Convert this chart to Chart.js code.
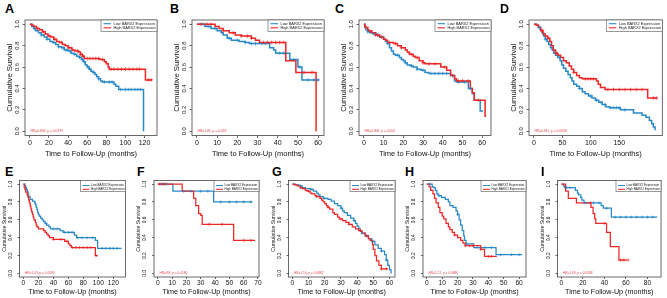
<!DOCTYPE html>
<html><head><meta charset="utf-8">
<script src="https://cdn.jsdelivr.net/npm/chart.js@4.4.1/dist/chart.umd.min.js"></script>
<style>
html,body{margin:0;padding:0;background:#fff;width:667px;height:298px;overflow:hidden;position:relative;}
.lt{position:absolute;font:bold 12.5px 'Liberation Sans',Arial,sans-serif;line-height:12.5px;color:#000;}
</style></head><body>
<script>
// ---------------- DATA ----------------
const Y_TICKS = [0, 0.2, 0.4, 0.6, 0.8, 1.0];
const LEGEND_LABELS = ['Low BARX2 Expression', 'High BARX2 Expression'];
const X_TITLE = 'Time to Follow-Up (months)';
const Y_TITLE = 'Cumulative Survival';

// A
const A_low = [[0,1],[2,0.98],[4,0.96],[6,0.94],[9,0.92],[12,0.9],[15,0.88],[18,0.86],[21,0.84],[24,0.83],[27,0.81],[30,0.79],[33,0.78],[36,0.76],[40,0.75],[43,0.73],[46,0.72],[49,0.7],[52,0.69],[54,0.67],[56,0.65],[58,0.62],[60,0.6],[62,0.58],[64,0.56],[66,0.55],[68,0.53],[70,0.51],[72,0.49],[74,0.47],[76,0.46],[88,0.44],[90,0.42],[93,0.39],[119,0]];
const A_high = [[0,1],[2,0.99],[4,0.98],[7,0.96],[10,0.95],[13,0.93],[16,0.91],[19,0.89],[22,0.88],[25,0.86],[28,0.84],[31,0.83],[34,0.81],[37,0.8],[40,0.78],[44,0.76],[47,0.75],[51,0.74],[53,0.72],[55,0.7],[57,0.68],[73,0.67],[78,0.65],[80,0.63],[82,0.6],[83,0.58],[121,0.48],[128,0.48]];
const A_lowCens = [5,12,18,25,30,35,38,42,47,52,55,57,61,63,67,72,78,83,86,95,100,103,106,110,113,116];
const A_highCens = [8,14,20,26,33,41,45,50,53,56,60,63,66,69,72,76,85,88,92,96,100,104,108,112,115,124,127];
const A_xTicks = [0,20,40,60,80,100,120];
const A_hr = 'HR=0.834, p = 0.0379';

// B
const B_low = [[0,1],[4,0.98],[7,0.96],[10,0.94],[12,0.92],[13,0.9],[15,0.87],[17,0.85],[21,0.84],[24,0.83],[26,0.82],[36,0.78],[38,0.76],[39,0.73],[46,0.67],[50,0.6],[52,0.48],[60.5,0.48]];
const B_high = [[0,1],[9,0.98],[11,0.96],[13,0.94],[16,0.92],[19,0.9],[22,0.89],[27,0.87],[29,0.85],[31,0.83],[44,0.66],[49,0.55],[59,0]];
const B_lowCens = [3,6,9,16,20,24,27,29,32,34,41,43,48,51,55,58,60];
const B_highCens = [2,5,7,13,18,22,25,27,33,35,37,39,41,43,53,57];
const B_xTicks = [0,10,20,30,40,50,60];
const B_hr = 'HR=1.84, p = 0.028';

// C
const C_low = [[0,1],[0.5,0.97],[1,0.95],[2,0.93],[3,0.92],[5,0.91],[7,0.89],[8,0.88],[10,0.86],[11,0.84],[12,0.82],[13,0.78],[14,0.75],[15,0.72],[16,0.71],[18,0.69],[19,0.67],[20,0.66],[21,0.64],[22,0.62],[24,0.61],[25,0.6],[27,0.58],[29,0.57],[31,0.55],[33,0.54],[44,0.52],[46,0.47],[47,0.46],[53,0.4],[55,0.35],[56,0.29],[59,0.19],[60.5,0.19]];
const C_high = [[0,1],[0.5,0.98],[1,0.97],[2,0.94],[4,0.92],[6,0.9],[8,0.88],[10,0.86],[11,0.85],[12,0.83],[15,0.82],[17,0.8],[19,0.78],[21,0.76],[22,0.74],[23,0.72],[25,0.7],[26,0.69],[28,0.66],[30,0.64],[31,0.63],[39,0.6],[42,0.57],[44,0.52],[46,0.49],[47,0.47],[54,0.4],[55,0.36],[56,0.29],[61.5,0.14],[62,0.14]];
const C_lowCens = [2,5,9,12,17,21,24,27,30,34,36,38,40,42,45,48,51,54];
const C_highCens = [3,6,9,13,16,19,24,27,30,33,36,41,45,48,50,53,58];
const C_xTicks = [0,10,20,30,40,50,60];
const C_hr = 'HR=0.806, p = 0.002';

// D
const D_low = [[0,1],[5,0.99],[8,0.97],[11,0.95],[14,0.92],[17,0.89],[20,0.86],[23,0.84],[26,0.81],[29,0.78],[32,0.76],[35,0.73],[38,0.71],[42,0.69],[46,0.66],[49,0.62],[52,0.59],[56,0.56],[60,0.53],[64,0.5],[67,0.47],[70,0.44],[75,0.42],[80,0.4],[85,0.37],[90,0.35],[96,0.33],[102,0.31],[108,0.29],[114,0.27],[120,0.25],[126,0.23],[133,0.22],[152,0.2],[175,0.17],[190,0.15],[197,0.13],[203,0.1],[207,0.07],[210,0.04],[213,0.01]];
const D_high = [[0,1],[4,0.99],[8,0.97],[12,0.94],[16,0.91],[20,0.89],[24,0.87],[28,0.84],[31,0.8],[34,0.76],[38,0.73],[42,0.71],[47,0.69],[52,0.66],[57,0.64],[62,0.61],[66,0.58],[70,0.55],[75,0.52],[80,0.5],[85,0.49],[110,0.47],[113,0.44],[117,0.41],[125,0.39],[200,0.31],[217,0.31]];
const D_lowCens = [10,20,45,80,100,110,118,125,135,140,145,150,160];
const D_highCens = [15,25,40,70,90,95,100,105,130,140,150,160,170,180,190,210,215];
const D_xTicks = [0,50,100,150];
const D_hr = 'HR=0.811, p = 0.0058';

// E
const E_low = [[0,1],[2,0.98],[3,0.96],[4,0.94],[5,0.92],[6,0.89],[7,0.86],[9,0.83],[12,0.81],[15,0.79],[16,0.77],[17,0.74],[18,0.71],[19,0.68],[20,0.66],[21,0.64],[23,0.62],[25,0.6],[27,0.58],[29,0.56],[31,0.54],[34,0.52],[36,0.5],[49,0.48],[53,0.46],[68,0.43],[71,0.4],[96,0.37],[99,0.28],[131,0.28]];
const E_high = [[0,1],[1,0.97],[2,0.94],[3,0.91],[5,0.88],[6,0.85],[7,0.82],[8,0.79],[9,0.75],[10,0.72],[11,0.69],[12,0.66],[13,0.63],[14,0.6],[16,0.57],[17,0.54],[18,0.52],[20,0.5],[27,0.48],[29,0.46],[31,0.44],[33,0.42],[35,0.4],[40,0.38],[55,0.36],[60,0.33],[62,0.31],[64,0.29],[96,0.2],[99,0.2]];
const E_lowCens = [30,40,45,55,60,65,72,78,85,92,105,110,115,120,125];
const E_highCens = [40,50,58,66,70,75,80,85,90,97];
const E_xTicks = [0,20,40,60,80,100,120];
const E_hr = 'HR=1.43, p = 0.0596';

// F
const F_low = [[0,1],[10.5,0.92],[39,0.8],[66,0.8]];
const F_high = [[0,1],[17,0.92],[25,0.84],[26.5,0.76],[28.5,0.67],[30,0.65],[31,0.55],[53,0.37],[68,0.37]];
const F_lowCens = [2,4,6,18,23,30,35,44,50,55,60,65];
const F_highCens = [1,3,5,36,45,60,65];
const F_xTicks = [0,10,20,30,40,50,60,70];
const F_hr = 'HR=8.8, p = 0.0180';

// G
const G_low = [[0,1],[2,0.99],[4,0.98],[6,0.96],[8,0.95],[11,0.94],[13,0.92],[15,0.9],[16,0.88],[17,0.86],[19,0.84],[22,0.83],[24,0.81],[26,0.78],[28,0.76],[30,0.73],[31,0.7],[32,0.68],[34,0.65],[36,0.62],[38,0.59],[39,0.56],[40,0.53],[41,0.5],[42,0.47],[43,0.45],[45,0.42],[47,0.39],[49,0.36],[51,0.32],[53,0.28],[55,0.25],[57,0.21],[58,0.15],[59,0.09],[60,0.04],[61,0]];
const G_high = [[0,1],[1,0.99],[3,0.98],[5,0.96],[6,0.95],[8,0.93],[9,0.92],[11,0.9],[12,0.89],[14,0.87],[15,0.86],[17,0.84],[18,0.82],[19,0.8],[20,0.78],[21,0.76],[22,0.74],[23,0.72],[25,0.68],[26,0.66],[28,0.63],[29,0.61],[31,0.59],[33,0.57],[35,0.55],[37,0.52],[39,0.5],[41,0.48],[43,0.45],[45,0.42],[47,0.39],[48,0.37],[49.5,0.32],[50,0.27],[51,0.2],[52,0.14],[53.5,0.09],[55,0.05],[59,0.05]];
const G_lowCens = [5,12,20,30,38,43,46,50,55,58];
const G_highCens = [5,10,15,22,30,35,42,46,55,58];
const G_xTicks = [0,10,20,30,40,50,60];
const G_hr = 'HR=1.16, p = 0.0882';

// H
const H_low = [[0,1],[3.5,0.97],[4.5,0.96],[5.5,0.93],[6.5,0.89],[7.5,0.87],[9.5,0.85],[12,0.83],[14,0.8],[15,0.76],[17,0.74],[19,0.7],[20,0.66],[21,0.6],[22,0.54],[23,0.48],[24,0.42],[24.5,0.37],[25.5,0.33],[30.5,0.29],[45,0.21],[62,0.21]];
const H_high = [[0,1],[1.5,0.97],[2.5,0.93],[4,0.89],[5,0.84],[6,0.79],[7.5,0.74],[8.5,0.68],[10,0.64],[11,0.61],[12.5,0.56],[14,0.52],[15,0.49],[16.5,0.46],[18,0.43],[20,0.4],[22,0.37],[23.5,0.34],[25,0.31],[35,0.27],[37.5,0.19],[45.5,0.19]];
const H_lowCens = [2,8,20,26,33,38,42,48,55,60];
const H_highCens = [18,25,28,30,35,40,42];
const H_xTicks = [0,10,20,30,40,50,60];
const H_hr = 'HR=1.22, p = 0.0686';

// I
const I_low = [[0,1],[2,0.98],[3,0.96],[13,0.93],[15,0.9],[16,0.88],[18,0.85],[19,0.82],[21,0.79],[37,0.76],[39,0.73],[46.5,0.63],[89,0.63]];
const I_high = [[0,1],[4,0.92],[6.5,0.84],[14,0.79],[27.5,0.74],[29.5,0.67],[31,0.61],[32,0.56],[42,0.46],[45.5,0.3],[53.5,0.15],[61,0.15]];
const I_lowCens = [5,8,22,30,35,42,50,55,60,65,70,75,80,85];
const I_highCens = [27,40,55,58,62];
const I_xTicks = [0,20,40,60,80];
const I_hr = 'HR=1.69, p = 0.0268';

// ---------------- STYLE / LAYOUT ----------------
const FONT = "'Liberation Sans', Arial, sans-serif";
const BLUE = '#2889c8', RED = '#ee2626', HRCOL = '#e8424a';

const TOP = {cy:0, ch:160, fTop:20, fBot:135.5, xTickFont:7, yTickFont:5.8, xTitleFont:7.5, yTitleFont:7.7,
  tl:2.5, xPad:1.1, yTickCenter:7.5, yTitleCenter:15, xTitleCenter:154, lw:1.5, cr:1.8,
  legend:{w:56, h:11.5, rows:[3.7,7.8], x0:2.5, x1:10, tx:12.5, font:3.9, lw:1.1},
  hr:{x:5.5, y:4, font:3.3}};
const BOT = {cy:163, ch:135, fTop:180.5, fBot:277, xTickFont:6.6, yTickFont:4.8, xTitleFont:7.2, yTitleFont:5.2,
  tl:2, xPad:0.2, yTickCenter:9, yTitleCenter:15, xTitleCenter:292, lw:1.25, cr:1.5,
  legend:{w:45, h:11, rows:[5,8.8], x0:2, x1:9, tx:10.5, font:3.1, lw:1},
  hr:{x:5.5, y:4.3, font:3.2}};

const PANELS = [
  {L:'A', R:TOP, cx:0,   cw:167, fl:25,    fr:157, lx:5,   low:A_low, high:A_high, lowC:A_lowCens, highC:A_highCens, xt:A_xTicks, hr:A_hr},
  {L:'B', R:TOP, cx:167, cw:167, fl:192,   fr:324, lx:170, low:B_low, high:B_high, lowC:B_lowCens, highC:B_highCens, xt:B_xTicks, hr:B_hr},
  {L:'C', R:TOP, cx:334, cw:167, fl:359,   fr:491, lx:335, low:C_low, high:C_high, lowC:C_lowCens, highC:C_highCens, xt:C_xTicks, hr:C_hr},
  {L:'D', R:TOP, cx:501, cw:166, fl:529,   fr:663, lx:500, low:D_low, high:D_high, lowC:D_lowCens, highC:D_highCens, xt:D_xTicks, hr:D_hr},
  {L:'E', R:BOT, cx:0,   cw:134, fl:19.5,  fr:125.5, lx:5,   low:E_low, high:E_high, lowC:E_lowCens, highC:E_highCens, xt:E_xTicks, hr:E_hr},
  {L:'F', R:BOT, cx:134, cw:134, fl:154,   fr:259, lx:137, low:F_low, high:F_high, lowC:F_lowCens, highC:F_highCens, xt:F_xTicks, hr:F_hr},
  {L:'G', R:BOT, cx:268, cw:135, fl:288.5, fr:395, lx:272, low:G_low, high:G_high, lowC:G_lowCens, highC:G_highCens, xt:G_xTicks, hr:G_hr},
  {L:'H', R:BOT, cx:403, cw:134, fl:423,   fr:526, lx:405, low:H_low, high:H_high, lowC:H_lowCens, highC:H_highCens, xt:H_xTicks, hr:H_hr},
  {L:'I', R:BOT, cx:537, cw:130, fl:557.5, fr:661, lx:541, low:I_low, high:I_high, lowC:I_lowCens, highC:I_highCens, xt:I_xTicks, hr:I_hr}
];

function stepAt(pts, t) { let s = pts[0][1]; for (const [x, y] of pts) { if (x <= t) s = y; else break; } return s; }
function lastT(pts) { return pts[pts.length - 1][0]; }

const kmDecor = {
  id: 'kmDecor',
  afterDraw(chart, args, o) {
    const {ctx, chartArea: a} = chart;
    ctx.save();
    ctx.strokeStyle = '#444'; ctx.lineWidth = 0.8;
    ctx.strokeRect(a.left, a.top, a.right - a.left, a.bottom - a.top);
    const L = o.legend;
    const bx = a.right - L.w, by = a.top;
    ctx.fillStyle = '#fff'; ctx.fillRect(bx, by, L.w, L.h);
    ctx.strokeStyle = '#555'; ctx.lineWidth = 0.6; ctx.strokeRect(bx, by, L.w, L.h);
    const sets = chart.data.datasets.filter(d => d.legendIdx !== undefined).sort((p, q) => p.legendIdx - q.legendIdx);
    sets.forEach((d, i) => {
      const yy = by + L.rows[i];
      ctx.strokeStyle = d.borderColor; ctx.lineWidth = L.lw;
      ctx.beginPath(); ctx.moveTo(bx + L.x0, yy); ctx.lineTo(bx + L.x1, yy); ctx.stroke();
      ctx.fillStyle = '#222'; ctx.font = L.font + 'px ' + FONT;
      ctx.textAlign = 'left'; ctx.textBaseline = 'middle';
      ctx.fillText(d.label, bx + L.tx, yy);
    });
    ctx.fillStyle = HRCOL; ctx.font = o.hrStyle.font + 'px ' + FONT;
    ctx.textAlign = 'left'; ctx.textBaseline = 'middle';
    ctx.fillText(o.hr, a.left + o.hrStyle.x, a.bottom - o.hrStyle.y);
    ctx.restore();
  }
};

PANELS.forEach(p => {
  const R = p.R;
  const lt = document.createElement('div');
  lt.className = 'lt'; lt.textContent = p.L;
  lt.style.left = p.lx + 'px'; lt.style.top = (R === TOP ? 3.4 : 166.4) + 'px';
  document.body.appendChild(lt);

  const cv = document.createElement('canvas');
  cv.width = p.cw; cv.height = R.ch;
  cv.style.cssText = `position:absolute;left:${p.cx}px;top:${R.cy}px;width:${p.cw}px;height:${R.ch}px`;
  document.body.appendChild(cv);

  const maxT = Math.max(lastT(p.low), lastT(p.high));
  const yw = p.fl - p.cx;
  const xh = R.cy + R.ch - R.fBot;
  const yTitleLh = R.yTitleFont * 1.2, xTitleLh = R.xTitleFont * 1.2;
  const yTitlePad = yw - R.yTitleCenter - yTitleLh / 2;
  const xTitlePad = (R.cy + R.ch) - R.xTitleCenter - xTitleLh / 2;
  const mctx = document.createElement('canvas').getContext('2d');
  mctx.font = R.yTickFont + 'px ' + FONT;
  const widest = Math.max(...Y_TICKS.map(v => mctx.measureText(v.toFixed(1)).width));
  const yTickPad = R.yTickCenter - R.tl - widest / 2;

  const curve = (label, pts, color, idx) => ({
    label, legendIdx: idx, data: pts.map(([x, y]) => ({x, y})), borderColor: color, borderWidth: R.lw,
    stepped: true, pointRadius: 0, fill: false, tension: 0
  });
  const cens = (times, pts, color) => ({
    data: times.map(t => ({x: t, y: stepAt(pts, t)})), showLine: false, pointStyle: 'cross',
    pointRadius: R.cr, borderColor: color, borderWidth: 0.7, backgroundColor: color
  });

  new Chart(cv, {
    type: 'line',
    data: {datasets: [
      cens(p.highC, p.high, RED),
      cens(p.lowC, p.low, BLUE),
      curve(LEGEND_LABELS[1], p.high, RED, 1),
      curve(LEGEND_LABELS[0], p.low, BLUE, 0)
    ]},
    options: {
      responsive: false, animation: false, events: [],
      layout: {padding: {left: 0, top: R.fTop - R.cy, right: (p.cx + p.cw) - p.fr, bottom: 0}},
      plugins: {legend: {display: false}, tooltip: {enabled: false},
        kmDecor: {legend: R.legend, hr: p.hr, hrStyle: R.hr}},
      scales: {
        x: {
          type: 'linear', min: -0.04 * maxT, max: 1.04 * maxT, bounds: 'data',
          afterBuildTicks: ax => { ax.ticks = p.xt.map(v => ({value: v})); },
          afterFit: sc => { sc.height = xh; },
          grid: {display: true, drawOnChartArea: false, drawTicks: true, tickLength: R.tl, color: '#444', lineWidth: 0.8},
          border: {display: false},
          ticks: {font: {family: FONT, size: R.xTickFont}, color: '#111', padding: R.xPad, maxRotation: 0, minRotation: 0,
            autoSkip: false, callback: v => String(v)},
          title: {display: true, text: X_TITLE, color: '#111', font: {family: FONT, size: R.xTitleFont},
            padding: {top: 0, bottom: xTitlePad}}
        },
        y: {
          type: 'linear', min: -0.04, max: 1.04, bounds: 'data',
          afterBuildTicks: ax => { ax.ticks = Y_TICKS.map(v => ({value: v})); },
          afterFit: sc => { sc.width = yw; },
          grid: {display: true, drawOnChartArea: false, drawTicks: true, tickLength: R.tl, color: '#444', lineWidth: 0.8},
          border: {display: false},
          ticks: {font: {family: FONT, size: R.yTickFont}, color: '#111', padding: yTickPad, minRotation: 90, maxRotation: 90,
            crossAlign: 'center', autoSkip: false, callback: v => Number(v).toFixed(1)},
          title: {display: true, text: Y_TITLE, color: '#111', font: {family: FONT, size: R.yTitleFont},
            padding: {top: yTitlePad, bottom: 0}}
        }
      }
    },
    plugins: [kmDecor]
  });
});
</script>
</body></html>
